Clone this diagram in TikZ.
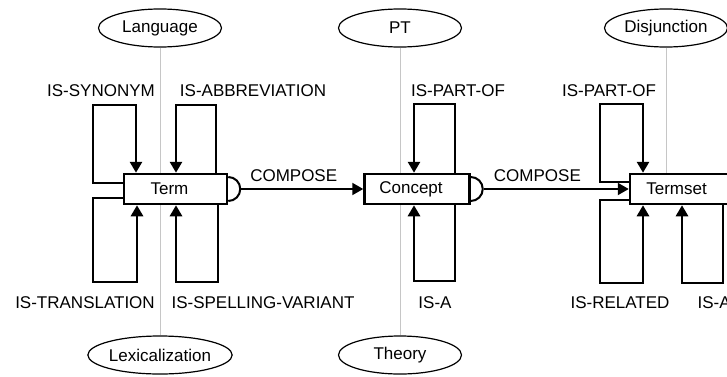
\documentclass[tikz,border=0pt]{standalone}
\usepackage{fontspec}
\setsansfont{Liberation Sans}
\usetikzlibrary{shapes.geometric, arrows.meta, positioning, calc}

\begin{document}
\begin{tikzpicture}[
    x=1pt, y=1pt,
    font=\sffamily\fontsize{17}{20}\selectfont,
    % Core Shapes
    relbox/.style={rectangle, draw=black, fill=white, line width=2.5pt, minimum width=103pt, minimum height=30pt, text centered, inner sep=0pt, execute at end node=\hspace*{12pt}},
    facet/.style={ellipse, draw=black, fill=white, line width=1.2pt, minimum width=123pt, minimum height=38pt, inner sep=0pt},
    % Connectors
    loopline/.style={line width=2.7pt, line join=miter, -{Triangle[length=11pt, width=12pt]}},
    composeline/.style={line width=2pt, -{Triangle[length=11pt, width=12pt]}},
    facetlink/.style={line width=0.8pt, draw=gray!45},
]
\useasboundingbox (0,0) rectangle (727,376);
\clip (0,0) rectangle (727,376);

% 1. Facets above and below each object
\node[facet] (lang) at (160,348) {Language};
\node[facet] (lex) at (160,21) {Lexicalization};
\node[facet] (pt) at (400,348) {PT};
\node[facet] (theory) at (400,21) {Theory};
\node[facet] (disj) at (666,348) {Disjunction};

% 2. Object boxes
\coordinate (termc) at (175.5,187);
\draw[facetlink] (lang) -- (lex);
\draw[facetlink] (pt) -- (theory);
\node[relbox] (term) at (termc) {Term};
\node[relbox, minimum width=105pt, right=135pt of term] (concept) {Concept};
\node[relbox, minimum width=105pt, right=158pt of concept] (termset) {Termset};
\draw[facetlink] (disj) -- (disj.south |- termset.north);

% Compose ports
\draw[line width=2pt] ([yshift=12pt]term.east) arc[start angle=90, end angle=-90, radius=12pt];
\draw[line width=2pt] ([yshift=12pt]concept.east) arc[start angle=90, end angle=-90, radius=12pt];
\coordinate (termout) at ([xshift=13pt]term.east);
\coordinate (conceptout) at ([xshift=13pt]concept.east);

% 3. Self relations on Term
\draw[loopline] (term.west |- 0,193) -| (93,271) -| (136,0 |- term.north);
\draw[loopline] (216,0 |- term.north) |- (176,271) -- (176,0 |- term.north);
\draw[loopline] (term.west |- 0,178) -| (93,94) -| (137,0 |- term.south);
\draw[loopline] (218,0 |- term.south) |- (176,94) -- (176,0 |- term.south);
\node at (101,285) {IS-SYNONYM};
\node at (253,285) {IS-ABBREVIATION};
\node at (85,73) {IS-TRANSLATION};
\node at (263,73) {IS-SPELLING-VARIANT};

% 4. Self relations on Concept
\draw[loopline] (455,0 |- concept.north) |- (414,272) -- (414,0 |- concept.north);
\draw[loopline] (455,0 |- concept.south) |- (414,95) -- (414,0 |- concept.south);
\node at (458,285) {IS-PART-OF};
\node at (435,73) {IS-A};

% 5. Self relations on Termset
\draw[loopline] (termset.west |- 0,194) -| (600,272) -| (643,0 |- termset.north);
\draw[loopline] (termset.west |- 0,176) -| (600,93) -| (643,0 |- termset.south);
\draw[loopline] (723,0 |- termset.south) |- (682,93) -- (682,0 |- termset.south);
\node at (609,285) {IS-PART-OF};
\node at (620,73) {IS-RELATED};
\node[anchor=west] at (694,73) {IS-A};

% Compose connections
\draw[composeline] (termout) -- node[above=3pt, pos=0.43] {COMPOSE} (concept.west);
\draw[composeline] (conceptout) -- node[above=3pt, pos=0.37] {COMPOSE} (termset.west);

\end{tikzpicture}
\end{document}
